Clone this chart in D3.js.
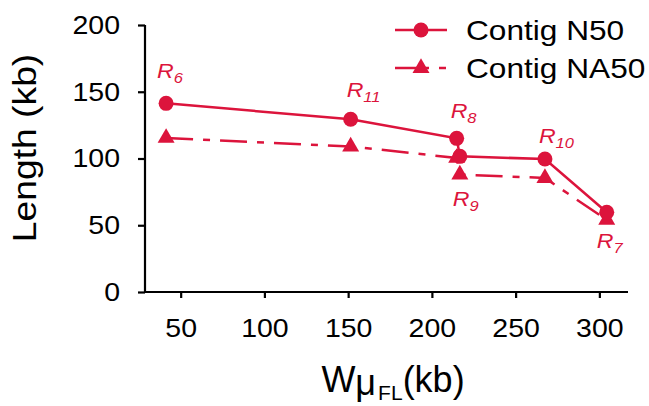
<!DOCTYPE html>
<html>
<head>
<meta charset="utf-8">
<script src="https://cdn.jsdelivr.net/npm/d3@7"></script>
<style>
  html, body { margin: 0; padding: 0; background: #ffffff; }
  svg { display: block; }
  text { font-family: "Liberation Sans", Arial, Helvetica, sans-serif; }
</style>
</head>
<body>
<div id="chart"></div>
<script>
// ---------------- data ----------------
const runNames   = ["6", "11", "8", "9", "10", "7"];          // R subscripts
const wMuFL      = [41.3, 151.5, 214.8, 216.7, 267.5, 304.4];  // x values (kb)
const contigN50  = [141.3, 129.4, 115.1, 101.6, 99.6, 59.7];
const contigNA50 = [115.4, 109.0, 100.4, 88.0, 85.4, 54.0];
const seriesNames = ["Contig N50", "Contig NA50"];
const xTicks = [50, 100, 150, 200, 250, 300];
const yTicks = [0, 50, 100, 150, 200];

// ---------------- layout ----------------
const W = 649, H = 406;
const color = "#DC143C";
const S = 1.14; // horizontal text stretch
const mLeft = 145, mRight = 628, mTop = 25, mBottom = 292;

const svg = d3.select("#chart").append("svg")
  .attr("width", W).attr("height", H);

const x = d3.scaleLinear().domain([28.7, 317.1]).range([mLeft, mRight]);
const y = d3.scaleLinear().domain([0, 200]).range([mBottom, mTop]);

function stretchText(sel, s) {
  sel.each(function () {
    const t = d3.select(this);
    const tx = +t.attr("x") || 0;
    t.attr("x", tx / s).attr("transform", `scale(${s},1)`);
  });
}

// axes
const yAxis = svg.append("g")
  .attr("transform", `translate(${mLeft},0)`)
  .call(d3.axisLeft(y).tickValues(yTicks).tickSize(7).tickSizeOuter(0).tickPadding(18));
const xAxis = svg.append("g")
  .attr("transform", `translate(0,${mBottom})`)
  .call(d3.axisBottom(x).tickValues(xTicks).tickSize(6).tickSizeOuter(0));

[yAxis, xAxis].forEach(g => {
  g.select(".domain").attr("stroke", "#000").attr("stroke-width", 2.2);
  g.selectAll(".tick line").attr("stroke", "#000").attr("stroke-width", 2.2);
  g.selectAll(".tick text").attr("fill", "#000").style("font-size", "25px")
    .style("font-family", '"Liberation Sans", Arial, sans-serif');
});
// extend domain lines to the corner
yAxis.select(".domain").attr("d", `M0,${mTop}V${mBottom + 1}`);
xAxis.select(".domain").attr("d", `M${mLeft - 1},0H${mRight}`);

yAxis.selectAll(".tick text").attr("x", -25).attr("dy", "0.33em");
stretchText(yAxis.selectAll(".tick text"), S);
xAxis.selectAll(".tick text").attr("y", 45).attr("dy", 0);
stretchText(xAxis.selectAll(".tick text"), S);

// axis titles
svg.append("text")
  .attr("transform", `translate(36,148) rotate(-90) scale(1.13,1)`)
  .attr("text-anchor", "middle")
  .style("font-size", "33px").attr("fill", "#000")
  .text("Length (kb)");

const xt = svg.append("text")
  .attr("transform", `translate(393,392)`)
  .attr("text-anchor", "middle")
  .attr("fill", "#000")
  .style("font-size", "36px");
xt.append("tspan").text("W");
xt.append("tspan").attr("dy", 3).text("μ");
xt.append("tspan").attr("dy", 5).attr("dx", 2).style("font-size", "21px").text("FL");
xt.append("tspan").attr("dy", -8).text("(kb)");

// ---------------- lines ----------------
const pts = (vals) => wMuFL.map((v, i) => [v, vals[i]]);
const line = d3.line().x(d => x(d[0])).y(d => y(d[1]));

svg.append("path").datum(pts(contigNA50))
  .attr("d", line).attr("fill", "none").attr("stroke", color)
  .attr("stroke-width", 2.5).attr("stroke-dasharray", "27,10,7,10");
svg.append("path").datum(pts(contigN50))
  .attr("d", line).attr("fill", "none").attr("stroke", color)
  .attr("stroke-width", 2.5);

const tri = d3.symbol().type(d3.symbolTriangle).size(125);
svg.append("g").selectAll("path").data(pts(contigNA50)).join("path")
  .attr("d", tri).attr("fill", color)
  .attr("transform", d => `translate(${x(d[0])},${y(d[1])})`);
svg.append("g").selectAll("circle").data(pts(contigN50)).join("circle")
  .attr("cx", d => x(d[0])).attr("cy", d => y(d[1])).attr("r", 7.5)
  .attr("fill", color);

// ---------------- run annotations ----------------
// offsets (px) relative to a reference point of each run: [series, dx, dy]
const annLayout = [
  ["n50", -9, -25],
  ["n50", -4, -22],
  ["n50", -6, -20],
  ["na50", -7, 31],
  ["n50", -6, -16],
  ["na50", -10, 28]
];
runNames.forEach((r, i) => {
  const [ser, dx, dy] = annLayout[i];
  const v = ser === "n50" ? contigN50[i] : contigNA50[i];
  const t = svg.append("text")
    .attr("transform", `translate(${x(wMuFL[i]) + dx},${y(v) + dy}) scale(1.1,1)`)
    .attr("fill", color).style("font-style", "italic")
    .style("font-size", "21px");
  t.append("tspan").text("R");
  t.append("tspan").attr("dy", 5).style("font-size", "15px").text(r);
});

// ---------------- legend ----------------
const legY = [30, 68];
const lg = svg.append("g");
seriesNames.forEach((name, i) => {
  const yy = legY[i];
  lg.append("line").attr("x1", 395).attr("x2", 447).attr("y1", yy).attr("y2", yy)
    .attr("stroke", color).attr("stroke-width", 2.5)
    .attr("stroke-dasharray", i === 1 ? "34,10,7,10" : null);
  if (i === 0) {
    lg.append("circle").attr("cx", 421).attr("cy", yy).attr("r", 7.5).attr("fill", color);
  } else {
    lg.append("path").attr("d", tri).attr("fill", color)
      .attr("transform", `translate(421,${yy})`);
  }
  lg.append("text")
    .attr("transform", `translate(466,${yy + 10}) scale(1.13,1)`)
    .attr("fill", "#000").style("font-size", "28px").text(name);
});
</script>
</body>
</html>
